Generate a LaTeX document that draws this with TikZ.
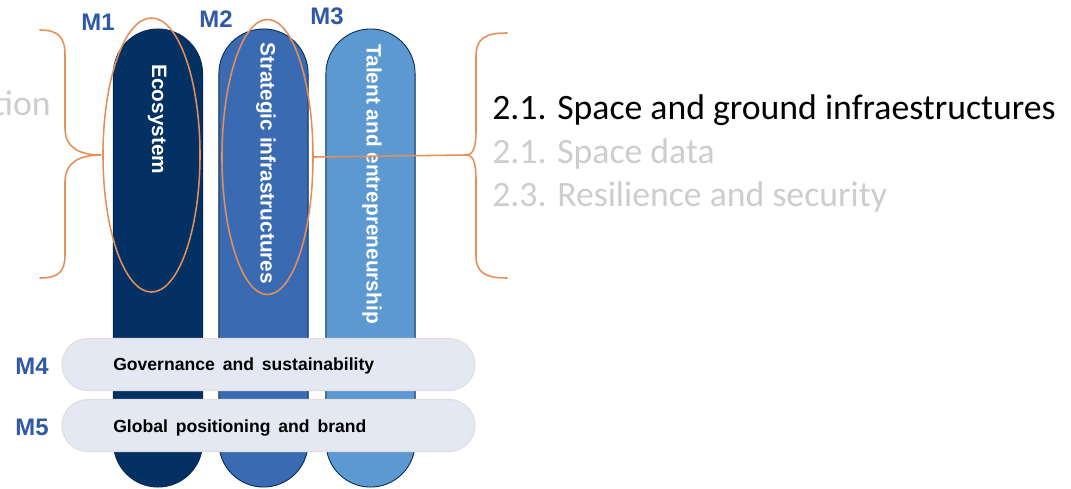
\documentclass[tikz,border=0pt]{standalone}
\usepackage{fontspec}
\setmainfont{Carlito}
\newfontfamily\arialfont{Liberation Sans}
\newcommand\barfont{\arialfont\bfseries\fontsize{12.5}{14}\selectfont\spaceskip 5.6pt\relax}
\usetikzlibrary{shapes.misc, shapes.geometric}
\definecolor{pilla}{RGB}{4,49,99}
\definecolor{pillb}{RGB}{58,107,178}
\definecolor{pillc}{RGB}{91,153,208}
\definecolor{mblue}{RGB}{47,88,165}
\definecolor{bracecol}{RGB}{228,142,88}
\definecolor{barfill}{RGB}{228,232,243}
\definecolor{greytext}{RGB}{205,205,205}

\begin{document}
\begin{tikzpicture}[x=0.025cm,y=-0.025cm,line cap=round,
    pill/.style={rounded rectangle, draw=pilla!80!black, line width=0.6pt,
        minimum width=11.45cm, minimum height=2.23cm, inner sep=0pt, rotate=-90},
    pilltext/.style={rotate=-90, anchor=west, inner sep=0pt, text=white,
        font=\arialfont\bfseries\fontsize{14.8}{16}\selectfont},
    bar/.style={rounded rectangle, fill=barfill, draw=gray!25, line width=0.8pt,
        minimum width=10.325cm, minimum height=1.3cm, inner sep=0pt},
    bartext/.style={anchor=west, inner sep=0pt, font=\barfont},
    mlabel/.style={text=mblue, font=\arialfont\bfseries\fontsize{17}{19}\selectfont},
    ring/.style={draw=bracecol, line width=1.1pt},
    item/.style={anchor=west, inner sep=0pt, font=\fontsize{25.4}{30}\selectfont}]
            \path[use as bounding box, clip] (0,0) rectangle (1071,488);

            % the three pillars
            \node[pill, fill=pilla] (p1) at (158,258) {};
            \node[pill, fill=pillb] (p2) at (263.5,258) {};
            \node[pill, fill=pillc] (p3) at (370.5,258) {};
            \node[pilltext] (t1) at (157,64) {Ecosystem};
            \node[pilltext] (t2) at (266,42) {Strategic infrastructures};
            \node[pilltext] (t3) at (372,44) {Talent and entrepreneurship};

            % highlight rings
            \node[ring, ellipse, minimum width=2.425cm, minimum height=6.85cm, inner sep=0pt] (e1) at (151.5,155) {};
            \node[ring, ellipse, minimum width=2.275cm, minimum height=6.875cm, inner sep=0pt] (e2) at (267.5,157) {};

            % cross bars
            \node[bar] (b4) at (268.5,364.5) {};
            \node[bar] (b5) at (268.5,425.5) {};
            \node[bartext] (g4) at (113,366) {Governance and sustainability};
            \node[bartext] (g5) at (113,428) {Global positioning and brand};

            % labels
            \node[mlabel] (m1) at (98,22) {M1};
            \node[mlabel] (m2) at (216,19) {M2};
            \node[mlabel] (m3) at (327,16) {M3};
            \node[mlabel] (m4) at (32,366) {M4};
            \node[mlabel] (m5) at (32,427) {M5};

            % left brace
            \coordinate (ltip) at (101,155);
            \draw[ring] (40,30) .. controls (58,30) and (65,37) .. (65,55) -- (65,128)
                .. controls (65,148) and (80,155) .. (ltip)
                .. controls (80,155) and (65,162) .. (65,182) -- (65,255)
                .. controls (65,272) and (58,278) .. (40,278);
            \node[item, anchor=east, text=greytext] (cut) at (51,103) {tion};

            % right brace
            \coordinate (rtip) at (466,155);
            \draw[ring] (507,33) .. controls (486,33) and (476,38) .. (476,56) -- (476,130)
                .. controls (476,148) and (473,155) .. (rtip)
                .. controls (473,155) and (476,162) .. (476,180) -- (476,256)
                .. controls (476,273) and (486,278) .. (507,278);
            \draw[ring] (e2.east) -- (rtip);

            % text at the end
            \node[item] (s1) at (492,110) {2.1. Space and ground infraestructures};
            \node[item, text=greytext] (s2) at (492,154) {2.1. Space data};
            \node[item, text=greytext] (s3) at (492,197) {2.3. Resilience and security};
\end{tikzpicture}
\end{document}
